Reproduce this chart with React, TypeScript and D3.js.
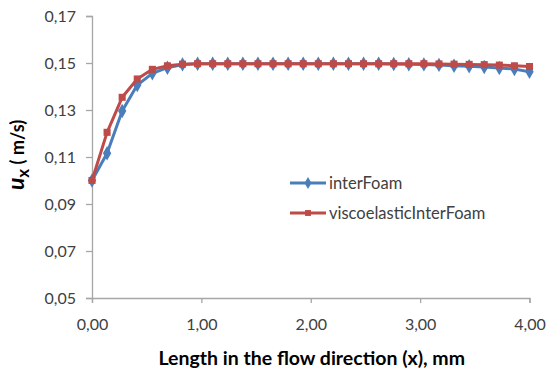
// App.tsx
import React, { useEffect, useRef } from "react";
import * as d3 from "d3";

// x positions: 30 samples from 0 to 4 mm
const xValues = Array.from({ length: 30 }, (_, i) => (i * 4) / 29);

const interFoam = [
  0.1, 0.1116, 0.1296, 0.1406, 0.1456, 0.148, 0.1494, 0.1497, 0.1497, 0.1497,
  0.1497, 0.1497, 0.1497, 0.1497, 0.1497, 0.1497, 0.1497, 0.1497, 0.1497, 0.1497,
  0.1496, 0.1495, 0.1494, 0.1492, 0.1488, 0.1486, 0.1483, 0.1479, 0.1474, 0.1463,
];

const viscoelasticInterFoam = [
  0.1, 0.1205, 0.1354, 0.1432, 0.1473, 0.1488, 0.1495, 0.1497, 0.1497, 0.1497,
  0.1497, 0.1497, 0.1497, 0.1497, 0.1497, 0.1497, 0.1497, 0.1497, 0.1497, 0.1497,
  0.1497, 0.1497, 0.1497, 0.1496, 0.1495, 0.1494, 0.1493, 0.1491, 0.1488, 0.1485,
];

const yTicks = [0.05, 0.07, 0.09, 0.11, 0.13, 0.15, 0.17];
const xTicks = [0, 1, 2, 3, 4];

const BLUE = "#4a7ebb";
const RED = "#be4b48";
const FONT = "Lato, 'Open Sans', sans-serif";

const App = () => {
  const ref = useRef<SVGSVGElement>(null);

  useEffect(() => {
    const svg = d3.select(ref.current);
    svg.selectAll("*").remove();

    // plot area
    const left = 92, right = 529.5, top = 16, bottom = 298;

    const x = d3.scaleLinear().domain([0, 4]).range([left, right]);
    const y = d3.scaleLinear().domain([0.05, 0.17]).range([bottom, top]);
    const fmt = (d: number, n: number) => d.toFixed(n).replace(".", ",");

    // y axis
    const gy = svg.append("g")
      .attr("transform", `translate(${left},0)`)
      .call(d3.axisLeft(y).tickValues(yTicks).tickSize(6).tickPadding(10)
        .tickFormat(d => fmt(+d, 2)));
    // x axis
    const gx = svg.append("g")
      .attr("transform", `translate(0,${bottom})`)
      .call(d3.axisBottom(x).tickValues(xTicks).tickSize(5).tickPadding(16)
        .tickFormat(d => fmt(+d, 2)));

    [gx, gy].forEach(g => {
      g.select(".domain").attr("stroke", "#a6a6a6").attr("stroke-width", 1.3);
      g.selectAll(".tick line").attr("stroke", "#a6a6a6").attr("stroke-width", 1.3);
      g.selectAll("text")
        .attr("fill", "#404040")
        .style("font-family", FONT)
        .style("font-size", "16px");
    });
    gy.selectAll("text").attr("dy", "0.35em");

    // series
    const series = [
      { name: "interFoam", values: interFoam, color: BLUE, shape: d3.symbolDiamond, size: 60 },
      { name: "viscoelasticInterFoam", values: viscoelasticInterFoam, color: RED, shape: d3.symbolSquare, size: 50 },
    ];

    const line = d3.line<number>()
      .x((_, i) => x(xValues[i]))
      .y(d => y(d));

    series.forEach(s => {
      svg.append("path")
        .datum(s.values)
        .attr("fill", "none")
        .attr("stroke", s.color)
        .attr("stroke-width", 3)
        .attr("stroke-linejoin", "round")
        .attr("d", line);
      svg.append("g")
        .selectAll("path")
        .data(s.values)
        .join("path")
        .attr("transform", (d, i) => `translate(${x(xValues[i])},${y(d)})`)
        .attr("d", d3.symbol().type(s.shape).size(s.size)())
        .attr("fill", s.color);
    });

    // legend
    const legend = svg.append("g").attr("transform", "translate(290,183)");
    series.forEach((s, i) => {
      const g = legend.append("g").attr("transform", `translate(0,${i * 30})`);
      g.append("line")
        .attr("x1", 0).attr("x2", 36)
        .attr("stroke", s.color).attr("stroke-width", 3);
      g.append("path")
        .attr("transform", "translate(18,0)")
        .attr("d", d3.symbol().type(s.shape).size(s.size * 0.7)())
        .attr("fill", s.color);
      g.append("text")
        .attr("x", 39).attr("dy", "0.35em")
        .attr("fill", "#404040")
        .style("font-family", FONT)
        .style("font-size", "16.5px")
        .text(s.name);
    });

    // x axis title
    svg.append("text")
      .attr("x", (left + right) / 2 + 1).attr("y", 365)
      .attr("text-anchor", "middle")
      .attr("fill", "#000")
      .style("font-family", FONT)
      .style("font-size", "19.5px")
      .style("font-weight", "bold")
      .text("Length in the flow direction (x), mm");

    // y axis title: u_x ( m/s)
    const yt = svg.append("text")
      .attr("transform", "translate(24,155) rotate(-90)")
      .attr("text-anchor", "middle")
      .attr("fill", "#000")
      .style("font-family", FONT)
      .style("font-weight", "bold");
    yt.append("tspan").style("font-size", "23px").style("font-style", "italic").text("u");
    yt.append("tspan").style("font-size", "17px").attr("dy", 5).text("x");
    yt.append("tspan").style("font-size", "18px").attr("dy", -5).text(" ( m/s)");
  }, []);

  return (
    <svg
      ref={ref}
      width={546}
      height={376}
      style={{ position: "absolute", left: 0, top: 0, background: "#fff" }}
    />
  );
};

export default App;
